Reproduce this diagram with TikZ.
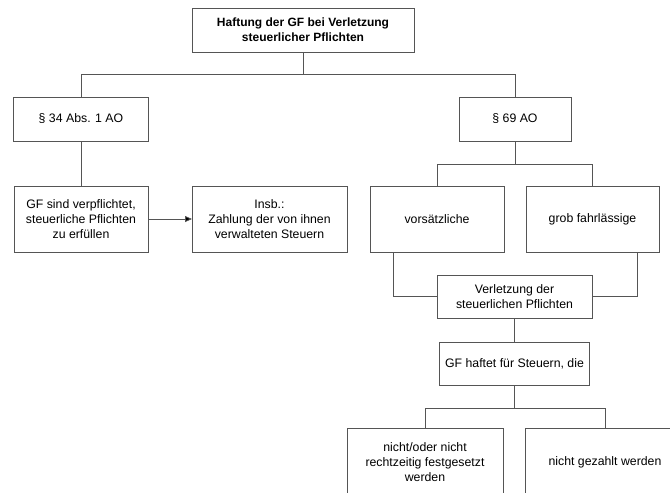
\documentclass[tikz,border=0pt]{standalone}
\usepackage{fontspec}
\setsansfont{Liberation Sans}
\usepackage{tikz}
\usetikzlibrary{arrows.meta}
\definecolor{gfedge}{RGB}{85,85,85}
\tikzset{
  gfbox/.style={
    draw=gfedge, line width=0.8pt, fill=white, align=center,
    inner sep=0pt, outer sep=0pt,
    font=\sffamily\fontsize{12.3}{15}\selectfont
  },
  gfhead/.style={gfbox, font=\sffamily\bfseries\fontsize{12}{15}\selectfont},
  ln/.style={draw=gfedge, line width=0.8pt},
  arr/.style={ln, -{Triangle[length=7pt,width=6pt,fill=black]}}
}
\begin{document}
\begin{tikzpicture}[x=1pt,y=-1pt]
  \clip (0,0) rectangle (670,493);
  \fill[white] (0,0) rectangle (670,493);

  \node[gfhead, minimum width=222pt, minimum height=44pt] (haft) at (303,30)
    {Haftung der GF bei Verletzung\\steuerlicher Pflichten};

  \node[gfbox, minimum width=135pt, minimum height=44pt] (p34) at (81,119)
    {\S~34 Abs. 1 AO};
  \node[gfbox, minimum width=112pt, minimum height=44pt] (p69) at (515,119)
    {\S~69 AO};

  \node[gfbox, minimum width=134pt, minimum height=66pt] (pflicht) at (81,219)
    {GF sind verpflichtet,\\steuerliche Pflichten\\zu erfüllen};
  \node[gfbox, minimum width=155pt, minimum height=66pt] (insb) at (269.5,219)
    {Insb.:\\Zahlung der von ihnen\\verwalteten Steuern};

  \node[gfbox, minimum width=134pt, minimum height=66pt] (vors) at (437,219)
    {vorsätzliche};
  \node[gfbox, minimum width=133pt, minimum height=66pt] (grob) at (592.5,219)
    {grob fahrlässige};

  \node[gfbox, minimum width=155pt, minimum height=43pt] (verl) at (514.5,296.5)
    {Verletzung der\\steuerlichen Pflichten};
  \node[gfbox, minimum width=150pt, minimum height=43pt] (gfst) at (514.5,363.5)
    {GF haftet für Steuern, die};

  \node[gfbox, minimum width=156pt, minimum height=68pt] (nfest) at (425,462)
    {nicht/oder nicht\\rechtzeitig festgesetzt\\werden};
  \node[gfbox, minimum width=160pt, minimum height=68pt] (nzahl) at (605,462)
    {nicht gezahlt werden};

  \coordinate (j0) at (303,74);
  \coordinate (j1) at (515,164);
  \coordinate (j2) at (514.5,408);

  \draw[ln] (haft) -- (j0);
  \draw[ln] (j0) -| (p34);
  \draw[ln] (j0) -| (p69);
  \draw[ln] (p34) -- (pflicht);
  \draw[arr] (pflicht) -- (insb);

  \draw[ln] (p69) -- (j1);
  \draw[ln] (j1) -| (vors);
  \draw[ln] (j1) -| (grob);
  \draw[ln] ([xshift=-44pt]vors.south) |- (verl);
  \draw[ln] ([xshift=44.5pt]grob.south) |- (verl);
  \draw[ln] (verl) -- (gfst);

  \draw[ln] (gfst) -- (j2);
  \draw[ln] (j2) -| (nfest);
  \draw[ln] (j2) -| (nzahl);
\end{tikzpicture}
\end{document}
